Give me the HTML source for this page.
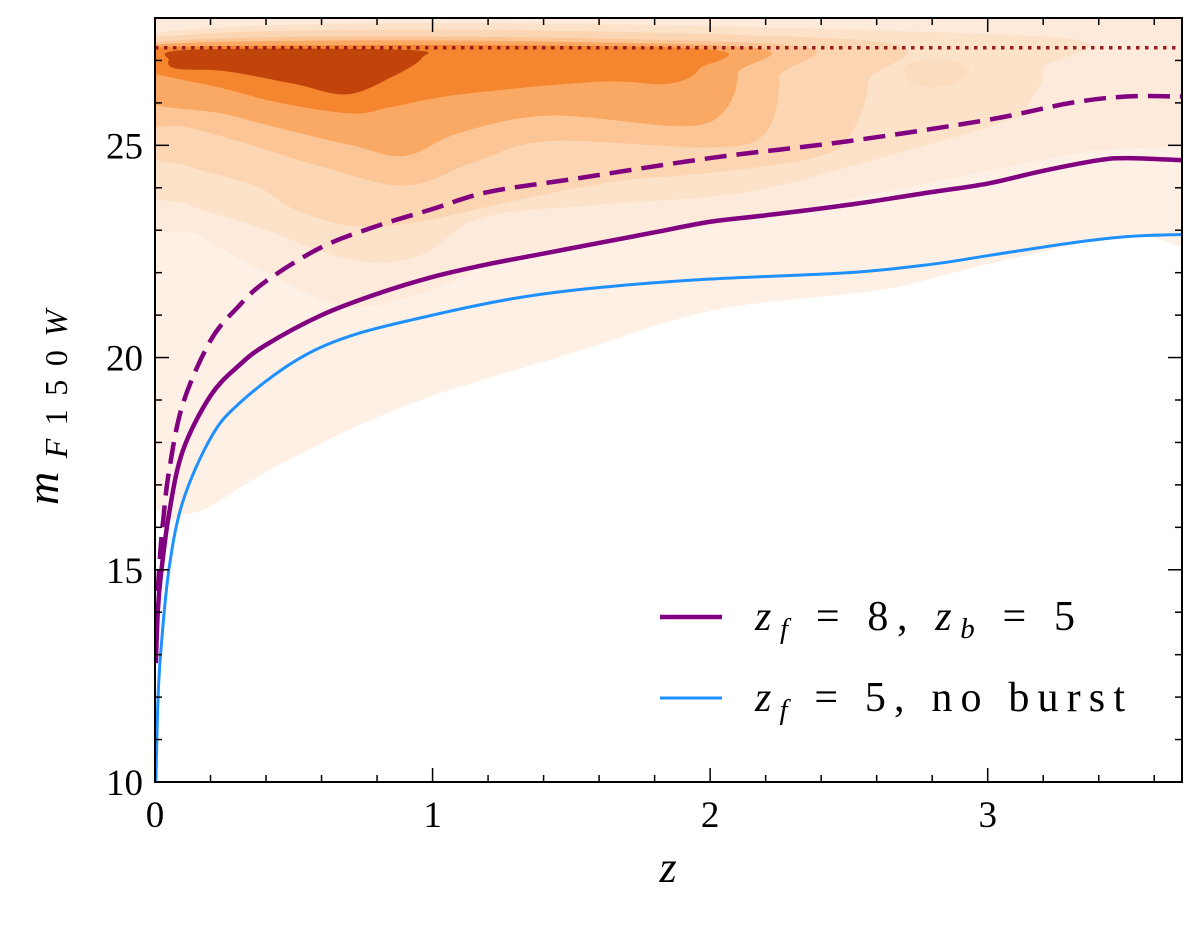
<!DOCTYPE html>
<html><head><meta charset="utf-8"><style>
html,body{margin:0;padding:0;background:#fff;}
svg{display:block;font-family:"Liberation Serif","DejaVu Serif",serif;}
</style></head><body>
<svg id="chart" width="1200" height="933" viewBox="0 0 1200 933"></svg>
<script>
const xTicks=[0,1,2,3];
const yTicks=[10,15,20,25];
const limitMag=27.3;
const solidZ=[0.003,0.01,0.02,0.05,0.1,0.2,0.3,0.4,0.6,0.8,1.0,1.2,1.4,1.6,1.8,2.0,2.2,2.5,2.8,3.0,3.2,3.4,3.5,3.7];
const solidM=[12.8,14.0,14.8,16.3,17.8,19.1,19.8,20.3,21.0,21.5,21.9,22.2,22.45,22.7,22.95,23.2,23.35,23.6,23.9,24.1,24.4,24.65,24.7,24.65];
const dashZ=[0.01,0.02,0.03,0.05,0.1,0.2,0.3,0.4,0.6,0.8,1.0,1.2,1.5,2.0,2.5,3.0,3.3,3.5,3.7];
const dashM=[14.5,15.5,16.2,17.3,18.9,20.4,21.2,21.8,22.6,23.1,23.5,23.9,24.2,24.7,25.1,25.6,26.0,26.15,26.15];
const blueZ=[0.003,0.01,0.02,0.05,0.1,0.2,0.3,0.5,0.7,1.0,1.3,1.6,2.0,2.5,2.8,3.0,3.3,3.5,3.7];
const blueM=[10.0,11.8,13.0,15.0,16.6,18.1,18.9,19.9,20.5,21.0,21.4,21.65,21.85,22.0,22.2,22.4,22.7,22.85,22.9];
const kdeLevels=[
 {c:"#fef0e4",p:[[0.0,28.6],[3.8,28.6],[3.8,23.0],[3.5,22.9],[3.0,22.2],[2.7,21.7],[2.5,21.5],[2.0,21.1],[1.5,20.1],[1.0,19.1],[0.7,18.3],[0.4,17.3],[0.2,16.5],[0.1,16.3],[0.03,16.3],[-0.05,18]]},
 {c:"#fdeadb",p:[[-0.05,28.6],[3.8,28.6],[3.8,25.4],[3.3,24.8],[2.7,24.0],[2.0,23.1],[1.3,22.4],[1.0,21.6],[0.7,21.2],[0.4,22.0],[0.15,22.9],[-0.05,23.5]]},
 {c:"#fde2ca",p:[[-0.05,27.6],[3.1,27.6],[3.2,26.8],[3.15,26.0],[3.08,25.6],[2.61,24.7],[2.13,23.9],[1.6,23.6],[1.18,23.3],[0.95,22.4],[0.71,22.3],[0.36,23.1],[0.12,23.6],[-0.05,24.2]]},
 {c:"#fcd6b3",p:[[-0.05,27.5],[2.5,27.5],[2.57,26.5],[2.5,25.2],[2.37,24.7],[2.0,24.35],[1.66,24.15],[1.3,23.7],[0.95,23.2],[0.71,23.1],[0.5,23.5],[0.36,24.05],[0.12,24.5],[-0.05,25.0]]},
 {c:"#fbc595",p:[[-0.05,27.4],[2.2,27.4],[2.25,26.6],[2.2,25.3],[2.01,24.95],[1.42,25.1],[1.15,24.6],[0.9,24.05],[0.6,24.5],[0.3,25.1],[0.1,25.45],[-0.05,25.6]]},
 {c:"#f9a964",p:[[-0.05,27.35],[2.05,27.35],[2.1,26.7],[2.05,25.8],[1.9,25.45],[1.42,25.7],[1.1,25.3],[0.9,24.75],[0.71,25.0],[0.45,25.4],[0.24,25.75],[-0.05,26.1]]},
 {c:"#f5862f",p:[[-0.05,27.3],[1.9,27.3],[1.96,26.8],[1.85,26.45],[1.6,26.5],[1.1,26.2],[0.85,25.9],[0.71,25.75],[0.45,26.0],[0.24,26.35],[-0.05,26.8]]},
 {c:"#c1440b",p:[[0.05,27.0],[0.12,27.25],[0.9,27.25],[0.96,27.05],[0.85,26.6],[0.69,26.2],[0.5,26.45],[0.25,26.75],[0.08,26.8]]},
 {c:"#fcdcbf",p:[[2.71,26.9],[2.82,27.05],[2.93,26.8],[2.88,26.45],[2.78,26.37],[2.71,26.55]]}
];
const L=155,R=1182,T=18,B=782,X0=0,X1=3.7,Y0=10,Y1=28;
const sx=z=>L+(z-X0)/(X1-X0)*(R-L);
const sy=m=>B-(m-Y0)/(Y1-Y0)*(B-T);
const NS="http://www.w3.org/2000/svg";
const svg=document.getElementById('chart');
function mk(tag,attrs,parent){const e=document.createElementNS(NS,tag);for(const k in attrs)e.setAttribute(k,attrs[k]);(parent||svg).appendChild(e);return e;}
const defs=mk('defs',{});const cp=mk('clipPath',{id:'clip'},defs);mk('rect',{x:L,y:T,width:R-L,height:B-T},cp);
const g=mk('g',{'clip-path':'url(#clip)'});


function closedSmooth(pts){const n=pts.length;const P=pts.map(p=>[sx(p[0]),sy(p[1])]);
 let d='M'+P[0][0]+','+P[0][1];
 for(let i=0;i<n;i++){const p0=P[(i-1+n)%n],p1=P[i],p2=P[(i+1)%n],p3=P[(i+2)%n];
  const c1=[p1[0]+(p2[0]-p0[0])/6,p1[1]+(p2[1]-p0[1])/6],c2=[p2[0]-(p3[0]-p1[0])/6,p2[1]-(p3[1]-p1[1])/6];
  d+=' C'+c1+' '+c2+' '+p2;}
 return d+'Z';}
kdeLevels.forEach((lv,i)=>{const e=mk('path',{d:closedSmooth(lv.p),fill:lv.c},g);
 
 });
function openSmooth(xs,ys){const P=xs.map((z,i)=>[sx(z),sy(ys[i])]);let d='M'+P[0];
 for(let i=0;i<P.length-1;i++){const p0=P[Math.max(i-1,0)],p1=P[i],p2=P[i+1],p3=P[Math.min(i+2,P.length-1)];
  const c1=[p1[0]+(p2[0]-p0[0])/6,p1[1]+(p2[1]-p0[1])/6],c2=[p2[0]-(p3[0]-p1[0])/6,p2[1]-(p3[1]-p1[1])/6];
  d+=' C'+c1+' '+c2+' '+p2;}return d;}
const lim=mk('line',{x1:L,x2:R,y1:sy(limitMag),y2:sy(limitMag),stroke:'#9b1c1c','stroke-width':3.5,'stroke-dasharray':'3.5,5.5'},g);


const dl=mk('path',{d:openSmooth(dashZ,dashM),fill:'none',stroke:'#800080','stroke-width':4.5,'stroke-dasharray':'22,10'},g);


const sl=mk('path',{d:openSmooth(solidZ,solidM),fill:'none',stroke:'#800080','stroke-width':4.5},g);


const bl=mk('path',{d:openSmooth(blueZ,blueM),fill:'none',stroke:'#1e90ff','stroke-width':3},g);


const fr=mk('rect',{x:L,y:T,width:R-L,height:B-T,fill:'none',stroke:'#000','stroke-width':2});


for(let z=0;z<=X1+1e-9;z+=0.2){const x=sx(z);const major=Math.abs(z-Math.round(z))<1e-6;const len=major?14:7;
 mk('line',{x1:x,x2:x,y1:B,y2:B-len,stroke:'#000','stroke-width':1.5});mk('line',{x1:x,x2:x,y1:T,y2:T+len,stroke:'#000','stroke-width':1.5});}
for(let m=Y0;m<=Y1;m+=1){const y=sy(m);const major=m%5===0;const len=major?14:7;
 mk('line',{x1:L,x2:L+len,y1:y,y2:y,stroke:'#000','stroke-width':1.5});mk('line',{x1:R,x2:R-len,y1:y,y2:y,stroke:'#000','stroke-width':1.5});}
xTicks.forEach(v=>{const t=mk('text',{x:sx(v),y:B+45,'text-anchor':'middle','font-size':37});t.textContent=v;
 
 });
yTicks.forEach(v=>{const t=mk('text',{x:L-12,y:sy(v)+13,'text-anchor':'end','font-size':37});t.textContent=v;
 
 });
</script>
<svg style="position:absolute;left:0;top:0" width="1200" height="933">
 <text x="668" y="882" font-family="Liberation Serif,serif" font-style="italic" font-size="44" text-anchor="middle">z</text>
 <text transform="translate(58,505) rotate(-90)" font-family="Liberation Serif,serif" font-size="46" textLength="195" lengthAdjust="spacing"><tspan font-style="italic">m</tspan><tspan font-size="32" dy="9"><tspan font-style="italic">F</tspan>150<tspan font-style="italic">W</tspan></tspan></text>
 <g>
  <line x1="660" x2="722" y1="617" y2="617" stroke="#800080" stroke-width="4.5"/>
  <text x="755" y="630" font-family="Liberation Serif,serif" font-size="42" textLength="320" lengthAdjust="spacing"><tspan font-style="italic">z</tspan><tspan font-size="29" dy="8" font-style="italic">f</tspan><tspan dy="-8"> = 8, </tspan><tspan font-style="italic">z</tspan><tspan font-size="29" dy="8" font-style="italic">b</tspan><tspan dy="-8"> = 5</tspan></text>
  <line x1="660" x2="722" y1="698" y2="698" stroke="#1e90ff" stroke-width="3"/>
  <text x="755" y="711" font-family="Liberation Serif,serif" font-size="42" textLength="370" lengthAdjust="spacing"><tspan font-style="italic">z</tspan><tspan font-size="29" dy="8" font-style="italic">f</tspan><tspan dy="-8"> = 5, no burst</tspan></text>
 </g>
</svg>
</body></html>
